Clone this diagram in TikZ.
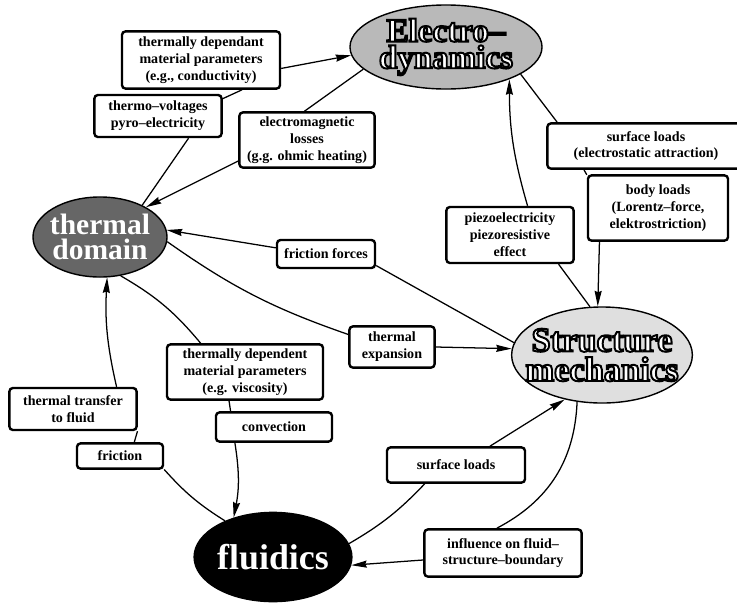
\documentclass[tikz,border=0pt]{standalone}
\usepackage{fontspec}
\setmainfont{Liberation Serif}
\usetikzlibrary{arrows.meta}
\usetikzlibrary{shapes.geometric}
\tikzset{>={Stealth[length=11pt,width=5pt,inset=1pt]}}
\tikzset{
  fieldnode/.style={ellipse, draw, line width=1pt, inner sep=0pt, align=center, text=white},
  couplebox/.style={draw, line width=1.7pt, rounded corners=2.5pt, fill=white, inner sep=2pt,
    align=center, font=\bfseries\fontsize{10}{12}\selectfont},
  coupling/.style={line width=0.9pt}
}
\newcommand\outlined[1]{\special{pdf:literal direct 0 G 2 Tr 1.4 w}#1\special{pdf:literal direct 0 Tr}}

\begin{document}
\begin{tikzpicture}[x=0.025cm, y=0.025cm]
        \useasboundingbox (0,0) rectangle (737,-607);
        % domains
        \node[fieldnode, fill=gray!55, minimum width=4.8cm, minimum height=2.1cm,
          font=\bfseries\fontsize{23.5}{19}\selectfont] (electro) at (446,-47)
          {\outlined{Electro--}\\\outlined{dynamics}};
        \node[fieldnode, fill=gray!80!black, minimum width=3.35cm, minimum height=2cm, inner xsep=-2pt,
          font=\bfseries\fontsize{21}{18}\selectfont] (thermal) at (100,-237) {thermal\\domain};
        \node[fieldnode, fill=gray!25, minimum width=4.5cm, minimum height=2.4cm, inner xsep=-9pt,
          font=\bfseries\fontsize{24.5}{21}\selectfont] (structure) at (602,-355)
          {\outlined{Structure}\\\outlined{mechanics}};
        \node[fieldnode, fill=black, minimum width=3.93cm, minimum height=2.23cm,
          font=\bfseries\fontsize{25.5}{20}\selectfont] (fluid) at (273,-557) {fluidics};
        % effects
        \node[couplebox, minimum width=3.95cm, minimum height=1.43cm] (tdep) at (201,-60)
          {thermally dependant\\material parameters\\(e.g., conductivity)};
        \node[couplebox, minimum width=3.18cm, minimum height=1.05cm] (tvolt) at (158,-116)
          {thermo--voltages\\pyro--electricity};
        \node[couplebox, minimum width=3.38cm, minimum height=1.38cm] (emloss) at (307,-140)
          {electromagnetic\\losses\\(g.g. ohmic heating)};
        \node[couplebox, minimum width=2.45cm, minimum height=0.7cm] (ffric) at (326,-254) {friction forces};
        \node[couplebox, minimum width=4.93cm, minimum height=1.13cm] (sload) at (646,-146)
          {surface loads\\(electrostatic attraction)};
        \node[couplebox, minimum width=3.5cm, minimum height=1.63cm] (bload) at (658,-208)
          {body loads\\(Lorentz--force,\\elektrostriction)};
        \node[couplebox, minimum width=3.18cm, minimum height=1.4cm] (piezo) at (510,-235)
          {piezoelectricity\\piezoresistive\\effect};
        \node[couplebox, minimum width=2.13cm, minimum height=1.03cm] (texp) at (392,-347) {thermal\\expansion};
        \node[couplebox, minimum width=3.9cm, minimum height=1.38cm] (vdep) at (245,-372)
          {thermally dependent\\material parameters\\(e.g. viscosity)};
        \node[couplebox, minimum width=2.9cm, minimum height=0.73cm] (conv) at (274,-427) {convection};
        \node[couplebox, minimum width=3.18cm, minimum height=1.05cm] (ttrans) at (73,-409)
          {thermal transfer\\to fluid};
        \node[couplebox, minimum width=2.15cm, minimum height=0.63cm] (fric) at (120,-456) {friction};
        \node[couplebox, minimum width=3.45cm, minimum height=0.88cm] (sload2) at (456,-465) {surface loads};
        \node[couplebox, minimum width=3.93cm, minimum height=1.18cm] (influ) at (503,-553)
          {influence on fluid--\\structure--boundary};
        % lines
        \draw[coupling] (thermal.37) -- (tvolt.-36);
        \draw[coupling] (tvolt.15) -- (tdep.-36);
        \draw[coupling, ->] (tdep.-6) -- (electro.185);
        \draw[coupling] (electro.195) -- (emloss.95);
        \draw[coupling, ->] (emloss.197) -- (thermal.33);
        \draw[coupling] (structure.172) -- (ffric.-13);
        \draw[coupling, ->] (ffric.173) -- (thermal.6);
        \draw[coupling] (thermal.-4) to[bend right=8] (texp.164);
        \draw[coupling, ->] (texp.east) -- (structure.176);
        \draw[coupling] (electro.-20) -- (sload.165);
        \draw[coupling] (sload.201) -- (bload.155);
        \draw[coupling, ->] (bload.210) -- (structure.95);
        \draw[coupling] (structure.104) -- (piezo.-31);
        \draw[coupling, ->] (piezo.59) to[bend left=8] (electro.-27);
        \draw[coupling] (thermal.-62) to[bend left=10] (vdep.147);
        \draw[coupling] (vdep.241) -- (conv.160);
        \draw[coupling, ->] (conv.202) to[bend left=10] (fluid.135);
        \draw[coupling] (fluid.143) to[bend left=8] (fric.-17);
        \draw[coupling] (fric.44) -- (ttrans.-19);
        \draw[coupling, ->] (ttrans.27) to[bend left=8] (thermal.-80);
        \draw[coupling] (fluid.10) to[bend right=8] (sload2.211);
        \draw[coupling, ->] (sload2.29) -- (structure.-130);
        \draw[coupling] (structure.-118) to[bend left=30] (influ.104);
        \draw[coupling, ->] (influ.185) -- (fluid.-6);
\end{tikzpicture}
\end{document}
